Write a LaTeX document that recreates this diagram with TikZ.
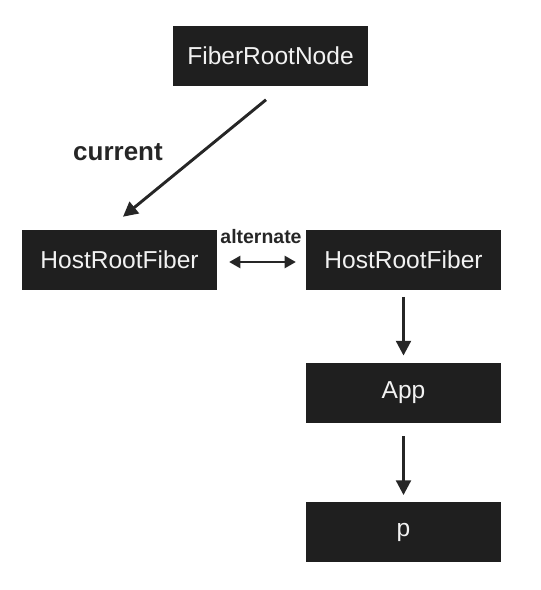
\documentclass[tikz,border=0pt]{standalone}
\usepackage{fontspec}
\setsansfont{Liberation Sans}
\usepackage{tikz}
\usetikzlibrary{arrows.meta}
\definecolor{fbbox}{HTML}{1F1F1F}
\definecolor{fbtext}{HTML}{F2F2F2}
\definecolor{fbline}{HTML}{262626}

\begin{document}
\begin{tikzpicture}[
  x=0.75pt, y=-0.75pt,
  font=\fontsize{18.4}{22}\selectfont\sffamily,
  line cap=butt, line join=miter,
  fiber/.style={fill=fbbox, text=fbtext, minimum width=146pt, minimum height=45pt, inner sep=0pt},
  lbl/.style={font=\fontsize{19.5}{23}\selectfont\sffamily\bfseries, text=fbline, inner sep=0pt},
  arr/.style={-{Triangle[length=11pt,width=11pt]}, line width=2.2pt, draw=fbline},
  alt/.style={{Triangle[length=8.5pt,width=9pt]}-{Triangle[length=8.5pt,width=9pt]}, line width=2pt, draw=fbline},
]
\path (0,0) rectangle (540,590);

% fiber tree
\node[fiber] (frn)  at (270.5,55.5) {FiberRootNode};
\node[fiber] (hrf1) at (119.5,260)  {HostRootFiber};
\node[fiber] (hrf2) at (403.5,260)  {HostRootFiber};
\node[fiber] (app)  at (403.5,392.5) {App};
\node[fiber] (p)    at (403.5,532)  {p};

% pointers
\draw[arr] ([shift={(-4.5,14)}]frn.south) -- ([shift={(3.5,-13)}]hrf1.north);
\node[lbl] (cur) at (118,152) {current};
\draw[alt, shorten <=9pt, shorten >=7.5pt] ([yshift=-1.5]hrf1.east) -- ([yshift=-1.5]hrf2.west);
\node[lbl, font=\fontsize{14.6}{17}\selectfont\sffamily\bfseries] (alter) at (261,237) {alternate};
\draw[arr, shorten <=5pt, shorten >=5pt] (hrf2.south) -- (app.north);
\draw[arr, shorten <=10pt, shorten >=5pt] (app.south) -- (p.north);
\end{tikzpicture}
\end{document}
